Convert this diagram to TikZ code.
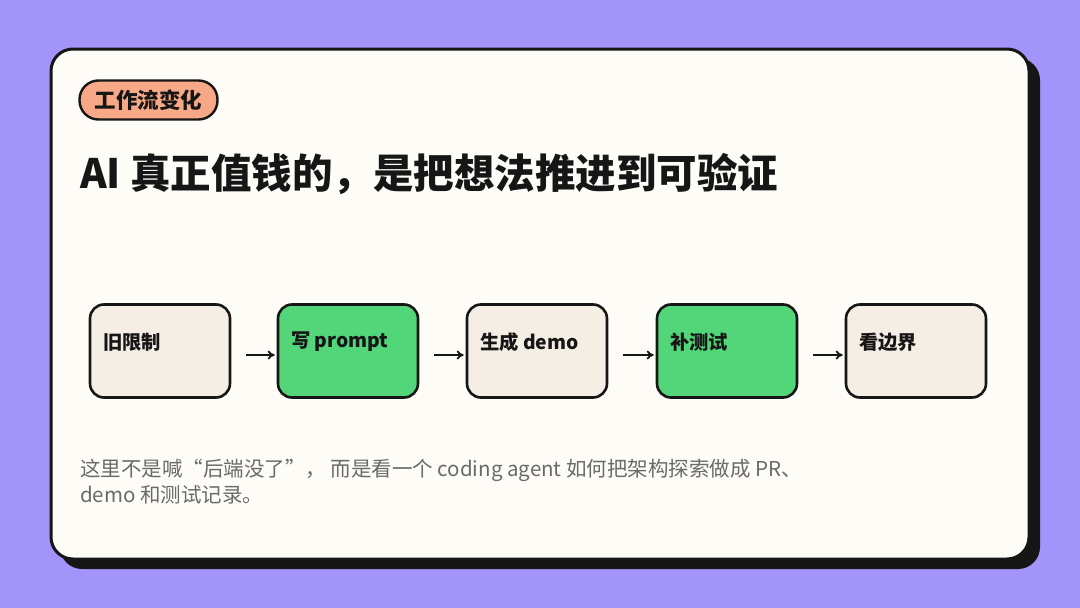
\documentclass[tikz,border=0pt]{standalone}
\usepackage{fontspec}
\setmainfont{Noto Sans CJK SC}
\usepackage{xcolor}
\usetikzlibrary{arrows.meta}

\definecolor{bgpurple}{HTML}{A394F9}
\definecolor{cardfill}{HTML}{FDFCF7}
\definecolor{inkdark}{HTML}{161616}
\definecolor{tagorange}{HTML}{F7A987}
\definecolor{boxbeige}{HTML}{F4EEE5}
\definecolor{boxgreen}{HTML}{53D57A}
\definecolor{textgray}{HTML}{6A6A6A}

\begin{document}
\begin{tikzpicture}[x=1pt, y=-1pt,
  stepbox/.style={draw=inkdark, line width=2.6pt, rounded corners=14pt,
    minimum width=140pt, minimum height=93pt, inner sep=0pt},
  steplabel/.style={anchor=west, inner sep=0pt, font=\fontsize{19.3}{22}\selectfont\bfseries, text=inkdark},
  flow/.style={-{To[length=7pt,width=9pt]}, line width=1.8pt, draw=inkdark,
    shorten <=15pt, shorten >=2pt}]
  \useasboundingbox (0,0) rectangle (1080,608);
  \fill[bgpurple] (0,0) rectangle (1080,608);  % Background
  \fill[inkdark, rounded corners=22pt] (60,58) rectangle (1040,569);  % Card shadow
  \draw[fill=cardfill, draw=inkdark, line width=3pt, rounded corners=22pt] (51,49) rectangle (1029,559);  % Card

  \node[draw=inkdark, line width=2.4pt, fill=tagorange, rounded corners=19pt,
    minimum width=138pt, minimum height=39pt, inner sep=0pt,
    font=\fontsize{21.5}{24}\selectfont\bfseries, text=inkdark] (Tag) at (148.5,100) {工作流变化};  % Tag
  \node[anchor=base west, inner sep=0pt, font=\fontsize{40.5}{46}\selectfont\bfseries, text=inkdark]
    (Title) at (80,188) {AI 真正值钱的，是把想法推进到可验证};  % Title

  \node[stepbox, fill=boxbeige] (Old) at (160,351) {};  % Steps
  \node[stepbox, fill=boxgreen] (Prompt) at (348,351) {};
  \node[stepbox, fill=boxbeige] (Demo) at (537,351) {};
  \node[stepbox, fill=boxgreen] (Test) at (727,351) {};
  \node[stepbox, fill=boxbeige] (Edge) at (916,351) {};
  \node[steplabel] (Old-t) at (103,342) {旧限制};  % Step labels
  \node[steplabel] (Prompt-t) at (291,342) {写 prompt};
  \node[steplabel] (Demo-t) at (480,342) {生成 demo};
  \node[steplabel] (Test-t) at (670,342) {补测试};
  \node[steplabel] (Edge-t) at (859,342) {看边界};
  \draw[flow] (Old.east |- 0,355) -- (Prompt.west |- 0,355);  % Connect steps
  \draw[flow] (Prompt.east |- 0,355) -- (Demo.west |- 0,355);
  \draw[flow] (Demo.east |- 0,355) -- (Test.west |- 0,355);
  \draw[flow] (Test.east |- 0,355) -- (Edge.west |- 0,355);

  \node[anchor=north west, inner sep=0pt, align=left, text=textgray,
    font=\fontsize{20.5}{26}\selectfont] (Note) at (80,459)
    {这里不是喊“后端没了”，  而是看一个 coding agent 如何把架构探索做成 PR、\\demo 和测试记录。};  % Note
\end{tikzpicture}
\end{document}
